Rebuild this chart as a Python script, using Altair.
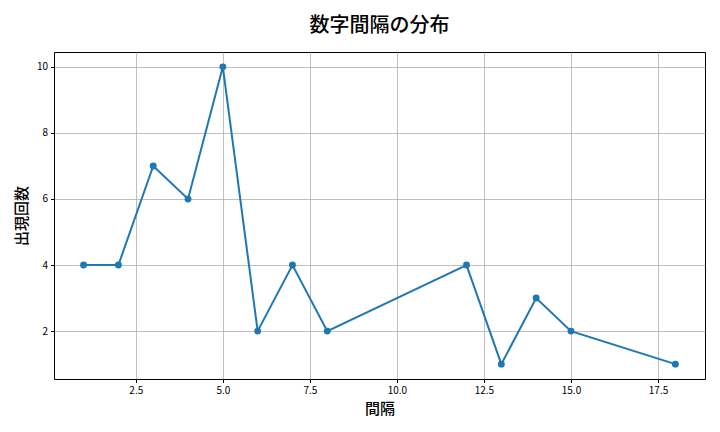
import pandas as pd
import altair as alt

intervals = [1, 2, 3, 4, 5, 6, 7, 8, 12, 13, 14, 15, 18]
counts = [4, 4, 7, 6, 10, 2, 4, 2, 4, 1, 3, 2, 1]

df = pd.DataFrame({"interval": intervals, "count": counts})

font = "Noto Sans CJK JP"
blue = "#1f77b4"

x = alt.X(
    "interval:Q",
    title="間隔",
    scale=alt.Scale(domain=[0.15, 18.85], nice=False, zero=False),
    axis=alt.Axis(values=[2.5, 5.0, 7.5, 10.0, 12.5, 15.0, 17.5], format=".1f"),
)
y = alt.Y(
    "count:Q",
    title="出現回数",
    scale=alt.Scale(domain=[0.55, 10.45], nice=False, zero=False),
    axis=alt.Axis(values=[2, 4, 6, 8, 10]),
)

base = alt.Chart(df).encode(x=x, y=y)
line = base.mark_line(color=blue, strokeWidth=2)
points = base.mark_circle(color=blue, size=48, opacity=1)

chart = (
    (line + points)
    .properties(
        width=651,
        height=327,
        autosize=alt.AutoSizeParams(type="none"),
        padding={"left": 46, "top": 44, "right": 7, "bottom": 45},
        title=alt.TitleParams(
            "数字間隔の分布", fontSize=20, font=font, fontWeight=500,
            anchor="middle", offset=16, color="black",
        ),
        background="white",
    )
    .configure_view(stroke="black", strokeWidth=1)
    .configure_axis(
        labelFont=font,
        titleFont=font,
        labelFontSize=10,
        titleFontSize=15,
        titleFontWeight=500,
        labelColor="black",
        titleColor="black",
        gridColor="#b0b0b0",
        gridWidth=0.8,
        tickColor="black",
        tickSize=3.5,
        domain=False,
        labelPadding=3,
    )
    .configure_axisX(titlePadding=6)
    .configure_axisY(titlePadding=7)
)

chart.save("out.html", embed_options={"renderer": "svg", "actions": False})
